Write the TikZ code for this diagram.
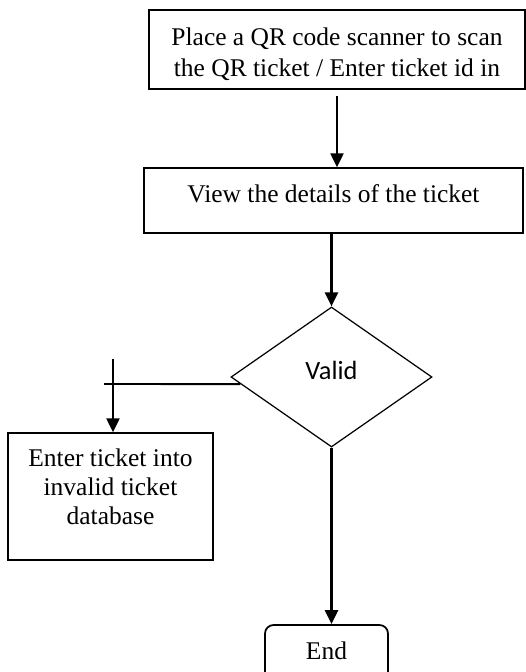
\documentclass[tikz,border=0pt]{standalone}
\usepackage{fontspec}
\setmainfont{Liberation Serif}
\newfontfamily\calibri{Carlito}
\usetikzlibrary{arrows.meta,positioning,shapes,calc}

\begin{document}
\begin{tikzpicture}[thick]

		\tikzstyle{proc}=[rectangle, draw, line width=0.8pt, inner sep=0pt, align=flush center, font=\fontsize{14.5}{16.5}\selectfont]
		\tikzstyle{cond}=[diamond, draw, line width=0.7pt, inner sep=0pt, minimum width=4.02cm, minimum height=2.8cm, font=\calibri\fontsize{15}{18}\selectfont]
		\tikzstyle{term}=[rectangle, rounded corners=0.17cm, draw, line width=1pt, inner sep=0pt, font=\fontsize{14.5}{16.5}\selectfont]
		\tikzstyle{arr}=[-{Triangle[length=0.28cm,width=0.26cm]}, black, line width=1.3pt]
		\useasboundingbox (0,0) rectangle (10.52,-13.44);

		\node[proc, text width=7.52cm, text height=0.7cm, text depth=0.88cm, font=\fontsize{14.5}{18.2}\selectfont] (scan) at (6.74,-0.99)
			{Place a QR code scanner to scan\\the QR ticket / Enter ticket id in};
		\node[proc, minimum width=7.58cm, text height=0.68cm, text depth=0.62cm] (view) at (6.67,-4.01)
			{View the details of the ticket};
		\node[cond, text height=0.2cm, text depth=0.12cm] (valid) at (6.63,-7.54) {Valid};
		\node[proc, text width=4.1cm, text height=0.67cm, text depth=1.87cm] (invalid) at (2.21,-9.93)
			{Enter ticket into\\invalid ticket\\database};
		\node[term, minimum width=2.46cm, text height=0.68cm, text depth=0.52cm] (end) at (6.53,-13.1) {End};
		\coordinate (no) at (2.08,-7.68);
		\coordinate (down) at (2.26,-7.18);

		% flow
		\draw[arr, shorten <=0.12cm] (scan.south) -- (scan.south |- view.north);
		\draw[arr] (view.south -| valid.north) -- (valid.north);
		\draw[line width=1.1pt] (no) -- ($(valid.west)!0.1!(valid.south)$);
		\draw[arr] (down) -- (down |- invalid.north);
		\draw[arr] (valid.south) -- (valid.south |- end.north);

\end{tikzpicture}
\end{document}
